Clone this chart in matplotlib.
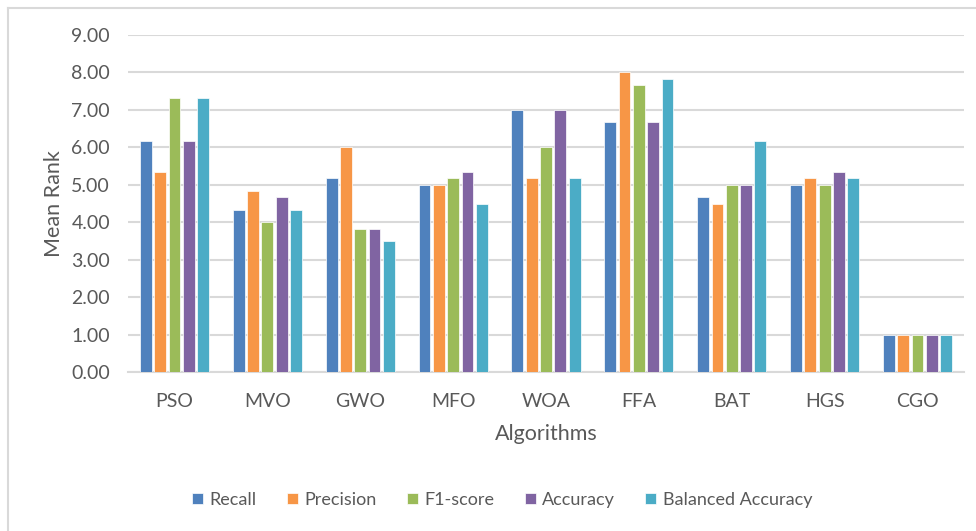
import matplotlib
matplotlib.use("Agg")
import matplotlib.pyplot as plt
import numpy as np
from matplotlib.lines import Line2D

algorithms = ["PSO", "MVO", "GWO", "MFO", "WOA", "FFA", "BAT", "HGS", "CGO"]
recall = [6.17, 4.33, 5.17, 5.00, 7.00, 6.67, 4.67, 5.00, 1.00]
precision = [5.33, 4.83, 6.00, 5.00, 5.17, 8.00, 4.50, 5.17, 1.00]
f1_score = [7.33, 4.00, 3.83, 5.17, 6.00, 7.67, 5.00, 5.00, 1.00]
accuracy = [6.17, 4.67, 3.83, 5.33, 7.00, 6.67, 5.00, 5.33, 1.00]
balanced_accuracy = [7.33, 4.33, 3.50, 4.50, 5.17, 7.83, 6.17, 5.17, 1.00]
series_names = ["Recall", "Precision", "F1-score", "Accuracy", "Balanced Accuracy"]
yticks = [0, 1, 2, 3, 4, 5, 6, 7, 8, 9]

series = [recall, precision, f1_score, accuracy, balanced_accuracy]
colors = ["#4F81BD", "#F79646", "#9BBB59", "#8064A2", "#4BACC6"]
text_color = "#595959"

plt.rcParams['font.family'] = ['Lato', 'DejaVu Sans']

fig = plt.figure(figsize=(9.76, 5.31), dpi=100)
# outer frame (only left and top edges visible in the reference)
fig.lines.append(Line2D([7.5/976, 7.5/976], [0, 1 - 8/531], transform=fig.transFigure,
                        color="#D9D9D9", linewidth=1.5))
fig.lines.append(Line2D([7.5/976, 1], [1 - 8/531, 1 - 8/531], transform=fig.transFigure,
                        color="#D9D9D9", linewidth=1.5))

ax = fig.add_axes([128/976, 1 - 372/531, (964 - 128)/976, (372 - 35)/531])

x = np.arange(len(algorithms))
pitch = 0.154
bw = 0.127
for i, (vals, name, c) in enumerate(zip(series, series_names, colors)):
    ax.bar(x + (i - 2) * pitch, vals, width=bw, color=c, label=name,
           edgecolor="white", linewidth=0.5, zorder=3)

ax.set_xlim(-0.5, len(algorithms) - 0.5)
ax.set_ylim(0, 9)
ax.set_yticks(yticks)
ax.set_yticklabels([f"{v:.2f}" for v in yticks])
ax.set_xticks(x)
ax.set_xticklabels(algorithms)
ax.yaxis.grid(True, color="#D9D9D9", linewidth=1.5, zorder=0)
ax.set_axisbelow(True)
for s in ["top", "right", "left"]:
    ax.spines[s].set_visible(False)
ax.spines["bottom"].set_color("#D9D9D9")
ax.spines["bottom"].set_linewidth(1.5)
ax.tick_params(axis="both", length=0, labelsize=14, colors=text_color)
ax.tick_params(axis="y", pad=13)
ax.tick_params(axis="x", pad=15)
ax.set_ylabel("Mean Rank", fontsize=15.5, color=text_color, labelpad=5.5)
ax.set_xlabel("Algorithms", fontsize=15.5, color=text_color, labelpad=10)

leg = fig.legend(loc="center", bbox_to_anchor=(502/976, 1 - 500/531), ncol=5,
                 frameon=False, fontsize=13, handlelength=0.6, handleheight=0.6,
                 handletextpad=0.35, columnspacing=1.7)
for t in leg.get_texts():
    t.set_color(text_color)

fig.savefig("out.png", dpi=100)
